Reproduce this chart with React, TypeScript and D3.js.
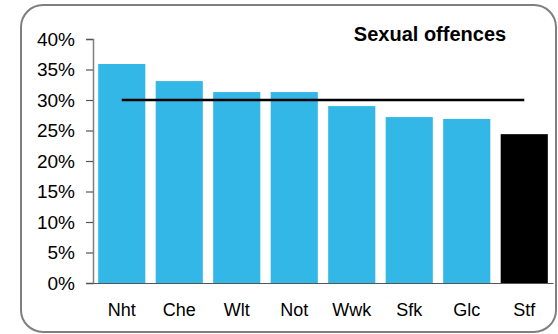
import React, { useEffect, useRef } from 'react';
import * as d3 from 'd3';

const categories = ['Nht', 'Che', 'Wlt', 'Not', 'Wwk', 'Sfk', 'Glc', 'Stf'];
const values = [35.9, 33.1, 31.3, 31.3, 29.0, 27.2, 26.9, 24.4];
const average = [30, 30, 30, 30, 30, 30, 30, 30];
const yTicks = [0, 5, 10, 15, 20, 25, 30, 35, 40];
const highlight = 'Stf';

const width = 558;
const height = 334;

const App: React.FC = () => {
  const svgRef = useRef<SVGSVGElement>(null);

  useEffect(() => {
    if (!svgRef.current) return;
    const svg = d3.select(svgRef.current);
    svg.selectAll('*').remove();

    const font = 'Arial, "Liberation Sans", sans-serif';
    const margin = { top: 39, right: 5, bottom: 51, left: 93 };
    const chartWidth = width - margin.left - margin.right;
    const chartHeight = height - margin.top - margin.bottom;

    // frame
    svg.append('rect')
      .attr('x', 21)
      .attr('y', 5)
      .attr('width', 535)
      .attr('height', 327)
      .attr('rx', 22)
      .attr('ry', 22)
      .style('fill', '#fff')
      .style('stroke', '#7f7f7f')
      .style('stroke-width', 2);

    const xScale = d3.scaleBand()
      .domain(categories)
      .range([0, chartWidth])
      .paddingInner(0.18)
      .paddingOuter(0.09);

    const yScale = d3.scaleLinear()
      .domain([0, 40])
      .range([chartHeight, 0]);

    const g = svg.append('g')
      .attr('transform', `translate(${margin.left}, ${margin.top})`);

    // bars
    g.selectAll('.bar')
      .data(categories)
      .enter().append('rect')
      .attr('class', 'bar')
      .attr('x', d => xScale(d) || 0)
      .attr('width', xScale.bandwidth())
      .attr('y', (_d, i) => yScale(values[i]))
      .attr('height', (_d, i) => chartHeight - yScale(values[i]))
      .style('fill', d => (d === highlight ? '#000000' : '#33B7E7'));

    // average line
    const line = d3.line<number>()
      .x((_d, i) => (xScale(categories[i]) || 0) + xScale.bandwidth() / 2)
      .y(d => yScale(d));

    g.append('path')
      .datum(average)
      .attr('d', line)
      .style('fill', 'none')
      .style('stroke', '#000')
      .style('stroke-width', 2.5);

    // y axis
    const yAxis = d3.axisLeft(yScale)
      .tickValues(yTicks)
      .tickSize(7)
      .tickPadding(11)
      .tickFormat(d => `${d}%`);
    const yg = g.append('g').call(yAxis);
    yg.select('.domain').style('stroke', '#7f7f7f').style('stroke-width', 1.5);
    yg.selectAll('.tick line').style('stroke', '#555').style('stroke-width', 1.2);
    yg.selectAll('text')
      .style('font-family', font)
      .style('font-size', '19px')
      .style('fill', '#000');

    // x axis
    const xg = g.append('g')
      .attr('transform', `translate(0, ${chartHeight})`)
      .call(d3.axisBottom(xScale).tickSize(0).tickPadding(20));
    xg.select('.domain').style('stroke', '#555').style('stroke-width', 1.2);
    xg.selectAll('text')
      .style('font-family', font)
      .style('font-size', '18px')
      .style('fill', '#000');

    // title
    svg.append('text')
      .attr('x', 430)
      .attr('y', 41)
      .style('text-anchor', 'middle')
      .style('font-family', font)
      .style('font-size', '20px')
      .style('font-weight', 'bold')
      .text('Sexual offences');
  }, []);

  return (
    <svg
      ref={svgRef}
      width={width}
      height={height}
      style={{ position: 'absolute', left: 0, top: 0 }}
    />
  );
};

export default App;
